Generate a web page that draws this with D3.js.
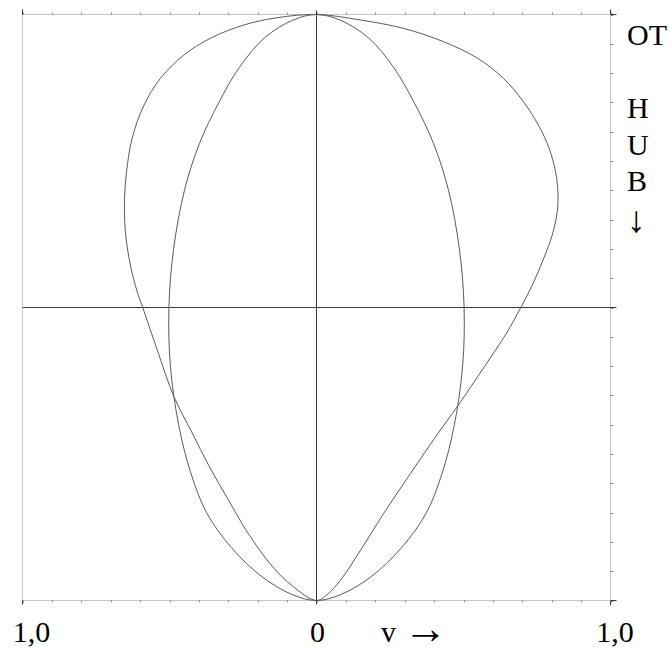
<!DOCTYPE html>
<html>
<head>
<meta charset="utf-8">
<script src="https://cdn.jsdelivr.net/npm/d3@7"></script>
<style>
  html, body { margin: 0; padding: 0; background: #fff; }
  svg { display: block; }
  text { font-family: "Liberation Serif", "Times New Roman", serif; fill: #000; }
</style>
</head>
<body>
<svg id="chart" width="670" height="653"></svg>
<script>
// Piston speed v over the stroke (OT at top, UT at bottom).
// Stroke position: 0 = OT, 1 = UT. Speed: fraction of the full-scale 1,0.

// Harmonic (inner) curve: stroke positions and speed magnitude (symmetric).
const innerHub = [0, 0.01, 0.04, 0.09, 0.15, 0.22, 0.30, 0.40, 0.50, 0.60, 0.70, 0.78, 0.85, 0.91, 0.96, 0.99, 1];
const innerVel = [0, 0.082, 0.177, 0.262, 0.332, 0.398, 0.449, 0.486, 0.502, 0.497, 0.469, 0.429, 0.374, 0.289, 0.184, 0.082, 0];

// Outer curve, right branch (positive v), from OT down to UT.
const outerRightHub = [0, 0.0094, 0.0237, 0.0464, 0.0747, 0.109, 0.149, 0.189, 0.228, 0.268, 0.302, 0.336, 0.376, 0.416, 0.462, 0.501, 0.544, 0.601, 0.669, 0.715, 0.783, 0.851, 0.914, 0.965, 0.990, 1];
const outerRightVel = [0, 0.150, 0.296, 0.432, 0.548, 0.636, 0.704, 0.755, 0.791, 0.813, 0.821, 0.819, 0.802, 0.773, 0.734, 0.694, 0.646, 0.571, 0.479, 0.413, 0.320, 0.229, 0.150, 0.082, 0.036, 0];

// Outer curve, left branch (negative v), from OT down to UT (endpoints shared).
const outerLeftHub = [0.0055, 0.0179, 0.0406, 0.0691, 0.109, 0.155, 0.211, 0.268, 0.314, 0.371, 0.428, 0.473, 0.500, 0.572, 0.652, 0.712, 0.772, 0.829, 0.885, 0.942, 0.976];
const outerLeftVel = [-0.134, -0.247, -0.361, -0.451, -0.531, -0.587, -0.627, -0.646, -0.653, -0.650, -0.633, -0.610, -0.591, -0.542, -0.485, -0.425, -0.364, -0.299, -0.233, -0.150, -0.080];

// Axis labels
const xTickLabels = [{ v: -1, t: "1,0", dx: 9 }, { v: 0, t: "0", dx: 1 }, { v: 1, t: "1,0", dx: 4.5 }];
const xAxisSymbol = "v";
const xAxisArrow = "\u2192";
const sideLabels = ["OT", "", "H", "U", "B"];
const sideArrow = "\u2193";

const svg = d3.select("#chart");
const x = d3.scaleLinear().domain([-1, 1]).range([22.5, 610.5]);
const y = d3.scaleLinear().domain([0, 1]).range([14.5, 600.5]);

const frameColor = "#8a8a8a";
const axisColor = "#3a3a3a";
const curveColor = "#5a5a5a";

// Dotted frame
const frame = svg.append("g").attr("stroke", frameColor).attr("stroke-width", 1).attr("fill", "none");
[[x(-1), y(0), x(1), y(0)], [x(-1), y(1), x(1), y(1)], [x(-1), y(0), x(-1), y(1)], [x(1), y(0), x(1), y(1)]]
  .forEach(([x1, y1, x2, y2]) => {
    frame.append("line").attr("x1", x1).attr("y1", y1).attr("x2", x2).attr("y2", y2)
      .attr("stroke-dasharray", "1,1");
  });

// Tick marks: speed every 0.1 on top and bottom, stroke every 0.05 on the right
const vTicks = d3.range(-10, 11).map(i => i / 10);
const sTicks = d3.range(0, 21).map(i => i / 20);
frame.selectAll(".tt").data(vTicks).join("line")
  .attr("x1", d => Math.round(x(d)) + 0.5).attr("x2", d => Math.round(x(d)) + 0.5)
  .attr("y1", y(0)).attr("y2", y(0) - 2);
frame.selectAll(".tb").data(vTicks).join("line")
  .attr("x1", d => Math.round(x(d)) + 0.5).attr("x2", d => Math.round(x(d)) + 0.5)
  .attr("y1", y(1)).attr("y2", y(1) + 2);
frame.selectAll(".tr").data(sTicks).join("line")
  .attr("y1", d => Math.round(y(d)) + 0.5).attr("y2", d => Math.round(y(d)) + 0.5)
  .attr("x1", x(1)).attr("x2", x(1) + 3);

// Corner marks
const corner = svg.append("g").attr("stroke", axisColor).attr("stroke-width", 1);
[[x(-1), y(0), x(-1), y(0) - 5], [x(1), y(0), x(1), y(0) - 5], [x(1), y(0), x(1) + 6, y(0)],
 [x(-1), y(1), x(-1), y(1) + 4], [x(1), y(1), x(1), y(1) + 5], [x(1), y(1), x(1) + 6, y(1)]]
  .forEach(([x1, y1, x2, y2]) => {
    corner.append("line").attr("x1", x1).attr("y1", y1).attr("x2", x2).attr("y2", y2);
  });

// Centre cross: v = 0 and half stroke
const axes = svg.append("g").attr("stroke", axisColor).attr("stroke-width", 1);
axes.append("line").attr("x1", x(0)).attr("x2", x(0)).attr("y1", y(0) - 4).attr("y2", y(1) + 4);
axes.append("line").attr("x1", x(-1)).attr("x2", x(1) + 6).attr("y1", y(0.5)).attr("y2", y(0.5));

// Curves
const line = d3.line()
  .x(d => x(d.v))
  .y(d => y(d.s))
  .curve(d3.curveCatmullRomClosed.alpha(0.5));

const innerPts = innerHub.map((s, i) => ({ s, v: innerVel[i] }))
  .concat(innerHub.slice(1, -1).map((s, i) => ({ s, v: -innerVel[i + 1] })).reverse());

const outerPts = outerRightHub.map((s, i) => ({ s, v: outerRightVel[i] }))
  .concat(outerLeftHub.map((s, i) => ({ s, v: outerLeftVel[i] })).reverse());

const curves = svg.append("g").attr("fill", "none").attr("stroke", curveColor).attr("stroke-width", 1);
curves.append("path").attr("d", line(innerPts));
curves.append("path").attr("d", line(outerPts));

// Labels
svg.append("g").selectAll("text").data(xTickLabels).join("text")
  .attr("x", d => x(d.v) + d.dx).attr("y", 642)
  .attr("text-anchor", "middle").attr("font-size", 30)
  .text(d => d.t);

const title = svg.append("text").attr("x", 381).attr("y", 642).attr("font-size", 30);
title.append("tspan").text(xAxisSymbol + " ");
title.append("tspan").attr("font-size", 44).attr("dy", 1).text(xAxisArrow);

const side = svg.append("g");
side.selectAll("text").data(sideLabels).join("text")
  .attr("x", 627).attr("y", (d, i) => 45 + i * 36.6)
  .attr("font-size", 30)
  .text(d => d);
side.append("text")
  .attr("x", 627).attr("y", 231.5)
  .attr("font-size", 37)
  .text(sideArrow);
</script>
</body>
</html>
